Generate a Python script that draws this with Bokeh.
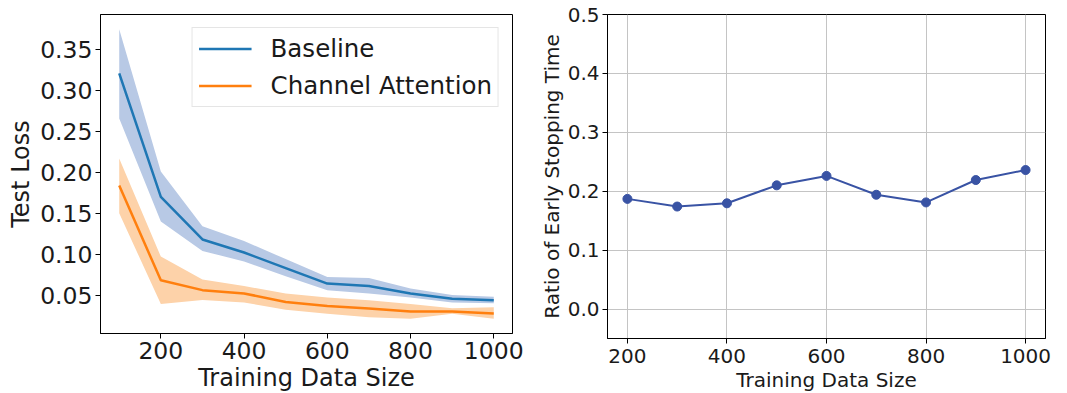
from bokeh.plotting import figure
from bokeh.layouts import row
from bokeh.models import (Legend, LegendItem, ColumnDataSource, FixedTicker, Range1d,
                          CustomJSTickFormatter)
from bokeh.embed import file_html
from bokeh.resources import INLINE

# ---- data ----
train_sizes = [100, 200, 300, 400, 500, 600, 700, 800, 900, 1000]
baseline_mean = [0.321, 0.170, 0.118, 0.102, 0.083, 0.064, 0.061, 0.052, 0.0455, 0.0436]
baseline_upper = [0.375, 0.201, 0.134, 0.116, 0.094, 0.072, 0.071, 0.058, 0.050, 0.048]
baseline_lower = [0.266, 0.140, 0.104, 0.091, 0.073, 0.056, 0.052, 0.047, 0.041, 0.040]
attn_mean = [0.184, 0.068, 0.056, 0.052, 0.0416, 0.0367, 0.0335, 0.030, 0.030, 0.0275]
attn_upper = [0.217, 0.097, 0.069, 0.061, 0.052, 0.047, 0.0436, 0.039, 0.034, 0.035]
attn_lower = [0.150, 0.039, 0.044, 0.041, 0.032, 0.027, 0.023, 0.021, 0.027, 0.021]

ratio_sizes = [200, 300, 400, 500, 600, 700, 800, 900, 1000]
ratio_values = [0.187, 0.174, 0.1795, 0.210, 0.226, 0.194, 0.181, 0.219, 0.236]

left_yticks = [0.05, 0.10, 0.15, 0.20, 0.25, 0.30, 0.35]
right_yticks = [0.0, 0.1, 0.2, 0.3, 0.4, 0.5]
xticks = [200, 400, 600, 800, 1000]

FONT = "DejaVu Sans"
TXT = "#1a1a1a"


def style_axes(p, tick_size, label_size):
    for ax in (p.xaxis[0], p.yaxis[0]):
        ax.axis_line_color = "black"
        ax.axis_line_width = 1
        ax.major_tick_line_color = "black"
        ax.major_tick_in = 0
        ax.major_tick_out = 5
        ax.minor_tick_line_color = None
        ax.major_label_text_font = FONT
        ax.major_label_text_font_size = tick_size
        ax.major_label_text_color = TXT
        ax.axis_label_text_font = FONT
        ax.axis_label_text_font_size = label_size
        ax.axis_label_text_font_style = "normal"
        ax.axis_label_text_color = TXT
    p.outline_line_color = "black"
    p.outline_line_width = 1
    p.outline_line_alpha = 1


# ---- left figure ----
p1 = figure(frame_width=412, frame_height=319, output_backend="svg", toolbar_location=None,
            x_range=Range1d(55, 1045), y_range=Range1d(0.003, 0.393),
            min_border_left=100, min_border_right=18, min_border_top=14, min_border_bottom=60)
p1.xgrid.visible = False
p1.ygrid.visible = False

src = ColumnDataSource(dict(x=train_sizes, bm=baseline_mean, bu=baseline_upper, bl=baseline_lower,
                            am=attn_mean, au=attn_upper, al=attn_lower))
p1.varea(x="x", y1="bl", y2="bu", source=src, fill_color="#b8c9e5", fill_alpha=1)
p1.varea(x="x", y1="al", y2="au", source=src, fill_color="#fdd2a9", fill_alpha=1)
r1 = p1.line(x="x", y="bm", source=src, line_color="#1f77b4", line_width=2.5)
r2 = p1.line(x="x", y="am", source=src, line_color="#ff7f0e", line_width=2.5)

p1.xaxis.ticker = FixedTicker(ticks=xticks)
p1.yaxis.ticker = FixedTicker(ticks=left_yticks)
p1.yaxis.formatter = CustomJSTickFormatter(code="return tick.toFixed(2);")
p1.xaxis.axis_label = "Training Data Size"
p1.yaxis.axis_label = "Test Loss"
style_axes(p1, "23.5px", "24px")
p1.xaxis.major_label_standoff = 3
p1.xaxis.axis_label_standoff = 2
p1.yaxis.major_label_standoff = 3
p1.yaxis.axis_label_standoff = 2

legend = Legend(items=[LegendItem(label="Baseline", renderers=[r1]),
                       LegendItem(label="Channel Attention", renderers=[r2])],
                location="top_right")
legend.margin = 13
legend.padding = 6
legend.spacing = 8
legend.glyph_width = 53
legend.glyph_height = 29
legend.label_standoff = 19
legend.label_text_font = FONT
legend.label_text_font_size = "24.5px"
legend.label_text_color = TXT
legend.border_line_color = "#cccccc"
legend.border_line_width = 1
legend.background_fill_alpha = 0.8
p1.add_layout(legend)

# ---- right figure ----
p2 = figure(frame_width=438, frame_height=324, output_backend="svg", toolbar_location=None,
            x_range=Range1d(160, 1040), y_range=Range1d(-0.05, 0.5),
            min_border_left=77, min_border_right=14, min_border_top=14, min_border_bottom=55)
p2.line(ratio_sizes, ratio_values, line_color="#3953a4", line_width=2)
p2.scatter(ratio_sizes, ratio_values, size=9, fill_color="#3953a4", line_color="#3953a4")
p2.xaxis.ticker = FixedTicker(ticks=xticks)
p2.yaxis.ticker = FixedTicker(ticks=right_yticks)
p2.yaxis.formatter = CustomJSTickFormatter(code="return tick.toFixed(1);")
p2.xaxis.axis_label = "Training Data Size"
p2.yaxis.axis_label = "Ratio of Early Stopping Time"
style_axes(p2, "20px", "20px")
p2.xaxis.major_label_standoff = 5
p2.xaxis.axis_label_standoff = 2
p2.yaxis.major_label_standoff = 3
p2.yaxis.axis_label_standoff = 1
for g in (p2.xgrid, p2.ygrid):
    g.grid_line_color = "#c4c4c4"
    g.grid_line_width = 1

layout = row(p1, p2)
open("out.html", "w").write(file_html(layout, INLINE))
